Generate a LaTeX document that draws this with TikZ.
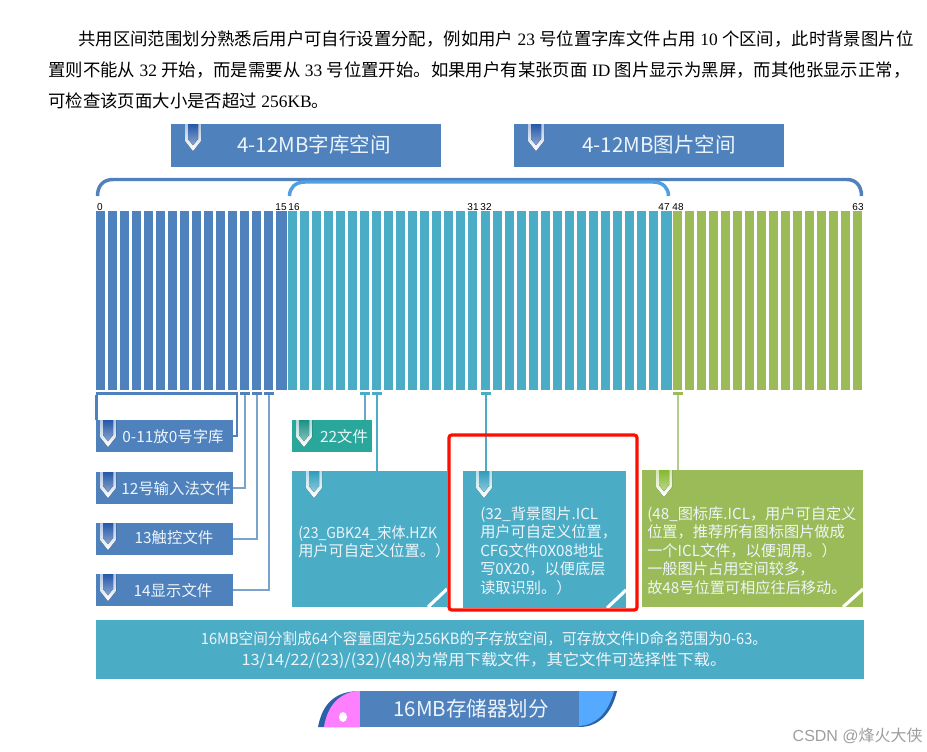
\documentclass[tikz,border=0pt]{standalone}
\usepackage{fontspec}
\setmainfont{Liberation Serif}
\setsansfont{Liberation Sans}
\newfontfamily\cjk{Noto Sans CJK SC}
\usetikzlibrary{calc}
\definecolor{cblue}{HTML}{4F81BD}
\definecolor{cteal}{HTML}{4BACC6}
\definecolor{cgreen}{HTML}{9BBB59}
\definecolor{cmint}{HTML}{2AA79B}
\definecolor{clight}{HTML}{7BA3CC}
\definecolor{cpale}{HTML}{B7CC8C}
\definecolor{cbright}{HTML}{4F9FE6}
\definecolor{ctext}{HTML}{EEF5FA}
\definecolor{cpink}{HTML}{FF80FF}
\definecolor{csky}{HTML}{55AAFF}
\definecolor{cdeep}{HTML}{2A62A8}
\definecolor{iblue}{HTML}{2458A8}
\definecolor{imint}{HTML}{1C8F84}
\definecolor{iteal}{HTML}{2F9CBC}
\definecolor{igreen}{HTML}{86B82E}
\newlength{\pxu}\setlength{\pxu}{0.75pt}
\newcommand{\fsz}[1]{\fontsize{#1\pxu}{1.25\dimexpr #1\pxu\relax}\selectfont}
% name, x1, y1, x2, y2, style
\newcommand{\rectnode}[6]{%
  \pgfmathsetmacro{\rw}{#4-#2}\pgfmathsetmacro{\rh}{#5-#3}%
  \node[#6,minimum width=\rw\pxu,minimum height=\rh\pxu,anchor=north west] (#1) at (#2,#3) {};}
\newcommand{\vicon}[4]{%
  \fill[top color=#4!35!white,bottom color=white]
    ({#1-8},#2) -- ({#1-8},{#3-10}) -- (#1,#3) -- ({#1+8},{#3-10}) -- ({#1+8},#2) -- cycle;
  \fill[top color=#4,bottom color=#4!55!white]
    ({#1-5},#2) -- ({#1-5},{#3-12}) -- (#1,{#3-6}) -- ({#1+5},{#3-12}) -- ({#1+5},#2) -- cycle;}
\tikzset{
  flat/.style={inner sep=0pt,outer sep=0pt,fill=#1,draw=none},
  barnode/.style={flat=#1},
  conn/.style={line width=1.6pt,draw=#1},
  para/.style={anchor=west,inner sep=0pt,text=black,font=\fsz{17.4}},
  label/.style={inner sep=0pt,text=ctext,font=\cjk\fsz{15.4}},
  bigtext/.style={inner sep=0pt,text=ctext,font=\cjk\fontsize{11.4pt}{13.9pt}\selectfont,align=left,anchor=north west},
  title/.style={inner sep=0pt,text=ctext,font=\cjk\fsz{20.5}},
  idx/.style={inner sep=0pt,text=black,font=\sffamily\fsz{10}},
}
\begin{document}
\begin{tikzpicture}[x=0.75pt,y=-0.75pt]
\useasboundingbox (0,0) rectangle (927,751);
\fill[white] (0,0) rectangle (927,751);
% paragraph
\node[para] (p1) at (78,39) {{\cjk 共用区间范围划分熟悉后用户可自行设置分配，例如用户} 23 {\cjk 号位置字库文件占用} 10 {\cjk 个区间，此时背景图片位}};
\node[para] (p2) at (48,70) {{\cjk 置则不能从} 32 {\cjk 开始，而是需要从} 33 {\cjk 号位置开始。如果用户有某张页面} ID {\cjk 图片显示为黑屏，而其他张显示正常，}};
\node[para] (p3) at (48,101) {{\cjk 可检查该页面大小是否超过} 256KB{\cjk 。}};
% headings
\rectnode{h1}{171}{124}{441}{167}{flat=cblue}
\rectnode{h2}{514}{124}{784}{167}{flat=cblue}
\node[title] (h1t) at (314,145) {4-12MB字库空间};
\node[title] (h2t) at (659,145) {4-12MB图片空间};
\vicon{193}{124}{151}{iblue}
\vicon{536}{124}{151}{iblue}
% brackets
\draw[line width=2.6pt,cblue] (97.5,196) .. controls (97.5,186) and (103,179.5) .. (113,179.5) -- (847,179.5) .. controls (856,179.5) and (861.5,186) .. (861.5,196);
\draw[line width=2.6pt,cbright] (289.5,196) .. controls (289.5,188) and (295,182) .. (305,182) -- (653,182) .. controls (663,182) and (668.5,188) .. (668.5,196);
% bars
\foreach \i in {0,...,63}{
  \ifnum\i<32 \pgfmathsetmacro{\bx}{96+12*\i}\else\pgfmathsetmacro{\bx}{97+12*\i}\fi
  \ifnum\i<16 \def\bc{cblue}\else\ifnum\i<48 \def\bc{cteal}\else\def\bc{cgreen}\fi\fi
  \rectnode{b\i}{\bx}{211}{\bx+9}{390}{barnode=\bc}
}
\fill[cblue] (b15.north east) rectangle ([xshift=2.2\pxu]b15.south east);
\fill[cteal] (b47.north east) rectangle ([xshift=1.5\pxu]b47.south east);
% indices
\node[idx] (n0) at (100,207) {0};
\node[idx] (n15) at (281,207) {15};
\node[idx] (n16) at (294,207) {16};
\node[idx] (n31) at (473,207) {31};
\node[idx] (n32) at (486,207) {32};
\node[idx] (n47) at (664,207) {47};
\node[idx] (n48) at (678,207) {48};
\node[idx] (n63) at (858,207) {63};
% ticks
\rectnode{t0}{96}{392}{238}{395}{flat=cblue}
\rectnode{t12}{240}{392}{250}{395}{flat=cblue}
\rectnode{t13}{252}{392}{262}{395}{flat=cblue}
\rectnode{t14}{264}{392}{274}{395}{flat=cblue}
\rectnode{t22}{360}{392}{370}{395}{flat=cteal}
\rectnode{t23}{372}{392}{382}{395}{flat=cteal}
\rectnode{t32}{481}{392}{491}{395}{flat=cteal}
\rectnode{t48}{673}{392}{683}{395}{flat=cgreen}
% boxes
\rectnode{a0}{96}{420}{233}{452}{flat=cblue}
\rectnode{a12}{96}{472}{233}{504}{flat=cblue}
\rectnode{a13}{96}{523}{233}{555}{flat=cblue}
\rectnode{a14}{96}{574}{233}{606}{flat=cblue}
\rectnode{a22}{292}{420}{372}{452}{flat=cmint}
\rectnode{a23}{292}{471}{447}{607}{flat=cteal}
\rectnode{a32}{463}{471}{626}{608}{flat=cteal}
\rectnode{a48}{642}{470}{863}{607}{flat=cgreen}
\rectnode{sum}{96}{620}{864}{679}{flat=cteal}
% connectors
\draw[conn=cblue] ([xshift=0.5\pxu]t0.south west) -- ([xshift=0.5\pxu]t0.south west |- a0.north);
\draw[conn=cblue] ([xshift=-1\pxu]t0.south east) |- (a0.east);
\draw[conn=clight] (t12.south) |- (a12.east);
\draw[conn=clight] (t13.south) |- (a13.east);
\draw[conn=clight] (t14.south) |- (a14.east);
\draw[conn=clight!70!cteal] (t22.south) -- (t22.south |- a22.north);
\draw[conn=cteal] (t23.south) -- (t23.south |- a23.north);
\draw[conn=cteal] (t32.south) -- (t32.south |- a32.north);
\draw[conn=cpale] (t48.south) -- (t48.south |- a48.north);
% icons
\vicon{108}{420}{447}{iblue}
\vicon{108}{472}{498}{iblue}
\vicon{108}{523}{550}{iblue}
\vicon{108}{574}{601}{iblue}
\vicon{304}{420}{447}{imint}
\vicon{314}{471}{498}{iteal}
\vicon{484}{471}{498}{iteal}
\vicon{664}{470}{497}{igreen}
% labels
\node[label] (l0) at (173,437) {0-11放0号字库};
\node[label] (l12) at (176,489) {12号输入法文件};
\node[label] (l13) at (174,538) {13触控文件};
\node[label] (l14) at (173,591) {14显示文件};
\node[label] (l22) at (344,437) {22文件};
\node[bigtext] (x23) at (298,525) {\scalebox{0.92}[1]{(23\_GBK24\_宋体.HZK}\\用户可自定义位置。）};
\node[bigtext] (x32) at (480,506) {(32\_背景图片.ICL\\用户可自定义位置，\\CFG文件0X08地址\\写0X20，以便底层\\读取识别。）};
\node[bigtext] (x48) at (647,506) {(48\_图标库.ICL，用户可自定义\\位置，推荐所有图标图片做成\\一个ICL文件，以便调用。）\\一般图片占用空间较多，\\故48号位置可相应往后移动。};
% corner slashes
\draw[white,line width=2.4pt] ($(a23.south east)+(-19,0)$) -- ($(a23.south east)+(0,-18)$);
\draw[white,line width=2.4pt] ($(a32.south east)+(-19,0)$) -- ($(a32.south east)+(0,-18)$);
\draw[white,line width=2.4pt] ($(a48.south east)+(-20,0)$) -- ($(a48.south east)+(0,-18)$);
% summary
\node[inner sep=0pt,text=ctext,font=\cjk\fsz{15.5},align=center,anchor=center] (sumt) at (484,650) {\scalebox{0.945}[1]{16MB空间分割成64个容量固定为256KB的子存放空间，可存放文件ID命名范围为0-63。}\\[1pt]\scalebox{1.055}[1]{13/14/22/(23)/(32)/(48)为常用下载文件，其它文件可选择性下载。}};
% bottom tag
\fill[cdeep] (318,727) .. controls (322,706) and (333,691) .. (360,691) -- (360,727) -- cycle;
\fill[cpink] (324,727) .. controls (327,708) and (337,694) .. (356,691) -- (360,691) -- (360,727) -- cycle;
\fill[white] (343,717) ellipse (4 and 5);
\fill[cdeep] (617,691) .. controls (612,712) and (600,727) .. (579,727) -- (579,691) -- cycle;
\fill[csky] (614,691) .. controls (609,710) and (598,725) .. (579,726) -- (579,691) -- cycle;
\rectnode{tag}{360}{691}{579}{727}{flat=cblue}
\node[title] (tagt) at (471,709) {16MB存储器划分};
% red frame
\draw[line width=2.4pt,red!90!orange,rounded corners=2pt] (449,435) rectangle (637,610);
% watermark
\node[inner sep=0pt,anchor=east,text=black!38,font=\sffamily\fsz{16}] (wm) at (923,736) {CSDN @{\cjk 烽火大侠}};
\end{tikzpicture}
\end{document}
